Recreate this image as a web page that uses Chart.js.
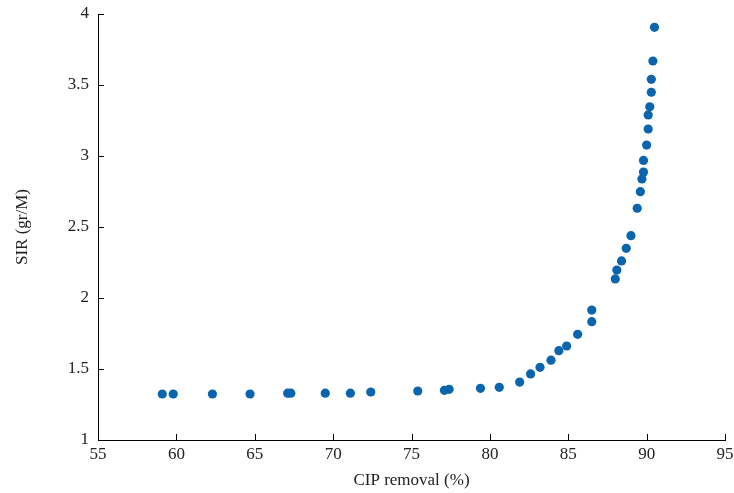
<!DOCTYPE html>
<html>
<head>
<meta charset="utf-8">
<script src="https://cdn.jsdelivr.net/npm/chart.js@4"></script>
<style>
  html, body { margin: 0; padding: 0; background: #fff; }
  #wrap { width: 734px; height: 493px; }
</style>
</head>
<body>
<div id="wrap"><canvas id="sirChart" width="734" height="493"></canvas></div>
<script>
// CIP removal (%) vs SIR (gr/M)
const cipRemoval = [
  59.1, 59.8, 62.3, 64.7, 67.1, 67.3, 69.5, 71.1, 72.4, 75.4,
  77.1, 77.4, 79.4, 80.6, 81.9, 82.6, 83.2, 83.9, 84.4, 84.9,
  85.6, 86.5, 86.5, 88.0, 88.1, 88.4, 88.7, 89.0, 89.4, 89.6,
  89.7, 89.8, 89.8, 90.0, 90.1, 90.1, 90.2, 90.3, 90.3, 90.4, 90.5
];
const sirValues = [
  1.324, 1.324, 1.324, 1.324, 1.33, 1.33, 1.33, 1.33, 1.338, 1.345,
  1.35, 1.357, 1.364, 1.371, 1.408, 1.465, 1.512, 1.562, 1.629, 1.662,
  1.744, 1.833, 1.915, 2.134, 2.197, 2.261, 2.35, 2.439, 2.632, 2.749,
  2.838, 2.887, 2.969, 3.077, 3.19, 3.289, 3.347, 3.449, 3.54, 3.669, 3.906
];

const xTicks = [55, 60, 65, 70, 75, 80, 85, 90, 95];
const yTicks = [1, 1.5, 2, 2.5, 3, 3.5, 4];

const points = cipRemoval.map((x, i) => ({ x: x, y: sirValues[i] }));

// small inward tick marks like the original figure
const inwardTicks = {
  id: 'inwardTicks',
  afterDraw(chart) {
    const ctx = chart.ctx;
    const xs = chart.scales.x, ys = chart.scales.y;
    ctx.save();
    ctx.strokeStyle = '#000';
    ctx.lineWidth = 1;
    ctx.beginPath();
    xTicks.forEach(v => {
      const px = Math.round(xs.getPixelForValue(v)) + 0.5;
      ctx.moveTo(px, ys.bottom);
      ctx.lineTo(px, ys.bottom - 6);
    });
    yTicks.forEach(v => {
      const py = Math.round(ys.getPixelForValue(v)) + 0.5;
      ctx.moveTo(xs.left, py);
      ctx.lineTo(xs.left + 6, py);
    });
    ctx.stroke();
    ctx.restore();
  }
};

const serif = { family: '"Liberation Serif", "DejaVu Serif", serif', size: 17 };

new Chart(document.getElementById('sirChart'), {
  type: 'scatter',
  data: {
    datasets: [{
      data: points,
      backgroundColor: '#0b65ae',
      borderColor: '#0b65ae',
      borderWidth: 0,
      pointRadius: 4.6,
      pointHoverRadius: 4.6
    }]
  },
  options: {
    responsive: false,
    animation: false,
    layout: { padding: { top: 14, right: 9, left: 12, bottom: 0 } },
    plugins: {
      legend: { display: false },
      tooltip: { enabled: false }
    },
    scales: {
      x: {
        type: 'linear',
        min: 55,
        max: 95,
        afterBuildTicks: s => { s.ticks = xTicks.map(v => ({ value: v })); },
        afterFit: s => { s.height = 53; s.paddingLeft = 0; s.paddingRight = 0; },
        grid: { display: false, drawTicks: false },
        border: { display: true, color: '#000', width: 1 },
        ticks: { font: serif, color: '#222', padding: 4, maxRotation: 0, callback: v => String(v) },
        title: { display: true, text: 'CIP removal (%)', font: serif, color: '#222', padding: { top: 0, bottom: 2 } }
      },
      y: {
        type: 'linear',
        min: 1,
        max: 4,
        afterBuildTicks: s => { s.ticks = yTicks.map(v => ({ value: v })); },
        afterFit: s => { s.width = 86; s.paddingTop = 0; s.paddingBottom = 0; },
        grid: { display: false, drawTicks: false },
        border: { display: true, color: '#000', width: 1 },
        ticks: { font: serif, color: '#222', padding: 9, callback: v => String(v) },
        title: { display: true, text: 'SIR (gr/M)', font: serif, color: '#222', padding: { top: 0, bottom: 0 } }
      }
    }
  },
  plugins: [inwardTicks]
});
</script>
</body>
</html>
